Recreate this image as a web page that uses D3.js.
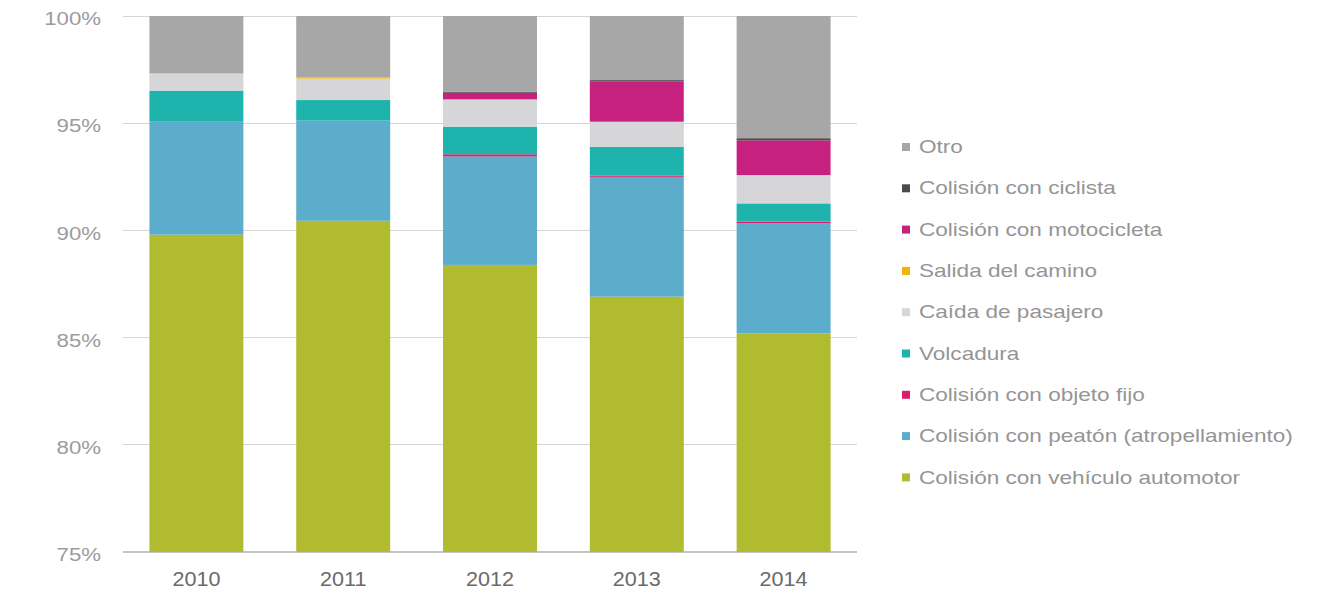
<!DOCTYPE html>
<html>
<head>
<meta charset="utf-8">
<script src="https://cdn.jsdelivr.net/npm/d3@7"></script>
<style>
  html, body { margin: 0; padding: 0; background: #ffffff; }
  svg { display: block; }
  text { font-family: "Liberation Sans", Arial, sans-serif; }
</style>
</head>
<body>
<svg id="chart" width="1332" height="596"></svg>
<script>
// Years on the x axis
const years = ["2010", "2011", "2012", "2013", "2014"];

// Share of each accident type per year (percent), stacked bottom to top
const vehiculo    = [89.80, 90.45, 88.39, 86.91, 85.20];
const peaton      = [5.27, 4.67, 5.06, 5.59, 5.13];
const objetoFijo  = [0.00, 0.00, 0.10, 0.05, 0.08];
const volcadura   = [1.45, 0.96, 1.29, 1.35, 0.85];
const caida       = [0.80, 1.00, 1.27, 1.17, 1.32];
const salida      = [0.00, 0.05, 0.00, 0.00, 0.00];
const motocicleta = [0.00, 0.00, 0.31, 1.87, 1.62];
const ciclista    = [0.00, 0.00, 0.04, 0.07, 0.10];
const otro        = [2.68, 2.87, 3.54, 2.99, 5.70];

// Series names (stack order, bottom first) and their colours
const seriesNames = [
  "Colisión con vehículo automotor",
  "Colisión con peatón (atropellamiento)",
  "Colisión con objeto fijo",
  "Volcadura",
  "Caída de pasajero",
  "Salida del camino",
  "Colisión con motocicleta",
  "Colisión con ciclista",
  "Otro"
];
const seriesValues = [vehiculo, peaton, objetoFijo, volcadura, caida, salida, motocicleta, ciclista, otro];
const seriesColors = ["#b0bb2f", "#5badcb", "#d81c6a", "#1fb3ae", "#d6d6d8", "#f0b400", "#c6217f", "#4a4a4a", "#a7a7a7"];

// Y axis ticks
const yTicks = [75, 80, 85, 90, 95, 100];

// Rows for d3.stack
const rows = years.map((y, i) => {
  const r = { year: y };
  seriesNames.forEach((n, k) => { r[n] = seriesValues[k][i]; });
  return r;
});

const svg = d3.select("#chart");
const plot = { left: 123, right: 857, top: 16, bottom: 552 };

const x = d3.scaleBand()
  .domain(years)
  .range([plot.left, plot.right])
  .paddingInner(0.36)
  .paddingOuter(0.18);

const y = d3.scaleLinear()
  .domain([75, 100])
  .range([plot.bottom, plot.top]);

const color = d3.scaleOrdinal().domain(seriesNames).range(seriesColors);

// Horizontal gridlines
svg.append("g")
  .selectAll("line")
  .data(yTicks)
  .join("line")
  .attr("x1", plot.left)
  .attr("x2", plot.right)
  .attr("y1", d => y(d))
  .attr("y2", d => y(d))
  .attr("stroke", d => d === 75 ? "#c4c4c4" : "#d6d6d6")
  .attr("stroke-width", d => d === 75 ? 1.5 : 1)
  .attr("shape-rendering", "crispEdges");

// Y axis labels
svg.append("g")
  .selectAll("text")
  .data(yTicks)
  .join("text")
  .attr("transform", d => `translate(101,${y(d) + 3}) scale(1.27,1)`)
  .attr("text-anchor", "end")
  .attr("dy", "0.35em")
  .attr("font-size", 17.5)
  .attr("fill", "#9c9c9c")
  .text(d => d + "%");

// Stacked bars, clipped to the visible range of the axis
svg.append("defs").append("clipPath").attr("id", "plotClip")
  .append("rect")
  .attr("x", plot.left).attr("y", plot.top)
  .attr("width", plot.right - plot.left)
  .attr("height", plot.bottom - plot.top);

const stacked = d3.stack().keys(seriesNames)(rows);

svg.append("g")
  .attr("clip-path", "url(#plotClip)")
  .selectAll("g")
  .data(stacked)
  .join("g")
  .attr("fill", d => color(d.key))
  .selectAll("rect")
  .data(d => d)
  .join("rect")
  .attr("x", d => x(d.data.year))
  .attr("width", x.bandwidth())
  .attr("y", d => y(d[1]))
  .attr("height", d => Math.max(0, y(d[0]) - y(d[1])));

// Year labels
svg.append("g")
  .selectAll("text")
  .data(years)
  .join("text")
  .attr("transform", d => `translate(${x(d) + x.bandwidth() / 2},586) scale(1.08,1)`)
  .attr("text-anchor", "middle")
  .attr("font-size", 20)
  .attr("fill", "#6a6a6a")
  .text(d => d);

// Legend, top entry first
const legendItems = seriesNames.slice().reverse();
const legend = svg.append("g")
  .selectAll("g")
  .data(legendItems)
  .join("g")
  .attr("transform", (d, i) => `translate(902,${147 + i * 41.3})`);

legend.append("rect")
  .attr("x", 0)
  .attr("y", -4)
  .attr("width", 8)
  .attr("height", 8)
  .attr("fill", d => color(d));

legend.append("text")
  .attr("transform", "translate(17,0) scale(1.29,1)")
  .attr("dy", "0.35em")
  .attr("font-size", 17.5)
  .attr("fill", "#959595")
  .text(d => d);
</script>
</body>
</html>
